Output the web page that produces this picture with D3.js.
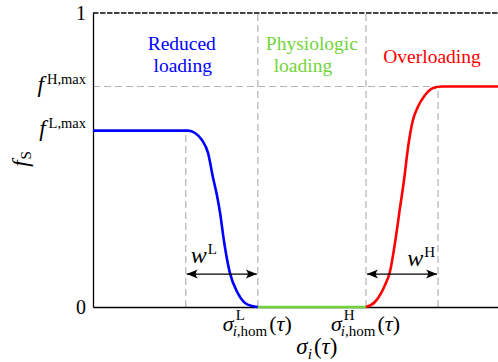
<!DOCTYPE html>
<html>
<head>
<meta charset="utf-8">
<script src="https://cdn.jsdelivr.net/npm/d3@7/dist/d3.min.js"></script>
<style>
  html, body { margin: 0; padding: 0; background: #fff; }
  svg { display: block; }
</style>
</head>
<body>
<svg id="chart" width="498" height="362"></svg>
<script>
// Stress-driven stimulus function f_S over the local stress sigma_i(tau)
const fLmax = 0.6;          // plateau under reduced loading
const fHmax = 0.75;         // plateau under overloading
const sigmaLhom = 40.7;     // lower homeostatic stress
const sigmaHhom = 67.4;     // upper homeostatic stress
const wL = 17.8;            // transition width, reduced loading
const wH = 17.8;            // transition width, overloading
const arrowLevel = 0.112;   // height of the width arrows

// Reduced-loading branch
const lowX = [0, 23.5, 25.2, 26.9, 28.4, 29.6, 30.6, 31.4, 32.3, 33.8, 35.6, 37.5, 39.3, 40.7];
const lowY = [0.6, 0.6, 0.592, 0.568, 0.524, 0.442, 0.380, 0.318, 0.228, 0.116, 0.051, 0.014, 0.003, 0];
// Physiologic branch
const physX = [40.7, 67.4];
const physY = [0, 0];
// Overloading branch
const highX = [67.4, 69.6, 72.1, 73.3, 74.6, 75.8, 76.8, 77.8, 79.0, 80.2, 82.0, 84.0, 86.2, 100];
const highY = [0, 0.017, 0.075, 0.119, 0.221, 0.337, 0.432, 0.544, 0.636, 0.680, 0.721, 0.745, 0.75, 0.75];

// Tick labels, as math runs: [text, italic]
const yTickValues = [0, fLmax, fHmax, 1];
const yTickLabels = [
  { base: [["0", false]] },
  { base: [["f", true]], sup: [["L,max", false]] },
  { base: [["f", true]], sup: [["H,max", false]] },
  { base: [["1", false]] }
];
const xTickValues = [sigmaLhom, sigmaHhom];
const xTickLabels = [
  { base: [["σ", true]], sup: [["L", false]], sub: [["i", true], [",hom", false]], tail: [["(", false], ["τ", true], [")", false]] },
  { base: [["σ", true]], sup: [["H", false]], sub: [["i", true], [",hom", false]], tail: [["(", false], ["τ", true], [")", false]] }
];
const xTitle = { base: [["σ", true]], sub: [["i", true]], tail: [["(", false], ["τ", true], [")", false]] };
const yTitle = { base: [["f", true]], sub: [["S", false]] };
const wLabelL = { base: [["w", true]], sup: [["L", false]] };
const wLabelH = { base: [["w", true]], sup: [["H", false]] };

const regionNames = [["Reduced", "loading"], ["Physiologic", "loading"], ["Overloading"]];
const regionColors = ["#0000ff", "#72d43a", "#ff0000"];

const FONT = '"Liberation Serif", "DejaVu Serif", serif';
const margin = { top: 13, right: 0, bottom: 55, left: 93 };
const W = 498, H = 362;

const svg = d3.select("#chart");
const x = d3.scaleLinear().domain([0, 100]).range([margin.left, W - margin.right]);
const y = d3.scaleLinear().domain([0, 1]).range([H - margin.bottom, margin.top]);

// Small math typesetter: base, stacked sup/sub, then a tail run
function typeset(parent, spec, o) {
  const size = o.size || 20, script = o.script || 14;
  const g = parent.append("g");
  const inner = g.append("g");
  function run(parts, px, py, fs) {
    const t = inner.append("text").attr("x", px).attr("y", py)
      .style("font-family", FONT).attr("font-size", fs)
      .attr("text-anchor", "start").attr("fill", "#000");
    parts.forEach(([s, it]) => t.append("tspan").attr("font-style", it ? "italic" : "normal").text(s));
    return t.node().getComputedTextLength();
  }
  let cx = run(spec.base, 0, 0, size);
  if (spec.sup || spec.sub) {
    const subX = cx + (o.subGap || 0);
    cx += (o.supGap || 1);
    let sw = 0;
    if (spec.sup) sw = Math.max(sw, run(spec.sup, cx, -(o.supShift || 8), script));
    if (spec.sub) sw = Math.max(sw, run(spec.sub, subX, (o.subShift || 5), script) + subX - cx);
    cx += sw;
  }
  if (spec.tail) cx += 2 + run(spec.tail, cx + 2, 0, size);
  const shift = o.anchor === "middle" ? -cx / 2 : o.anchor === "end" ? -cx : 0;
  inner.attr("transform", `translate(${shift},0)`);
  g.attr("transform", `translate(${o.x || 0},${o.y || 0})${o.rotate ? ` rotate(${o.rotate})` : ""}`);
  return g;
}

// Guide lines
const guides = svg.append("g").attr("stroke", "#b3b3b3").attr("stroke-width", 1.2)
  .attr("stroke-dasharray", "7,4").attr("fill", "none");
guides.append("line").attr("x1", x(0)).attr("x2", x(100)).attr("y1", y(fHmax)).attr("y2", y(fHmax));
[[sigmaLhom - wL, fLmax], [sigmaLhom, 1], [sigmaHhom, 1], [sigmaHhom + wH, fHmax]].forEach(([v, top]) => {
  guides.append("line").attr("x1", x(v)).attr("x2", x(v)).attr("y1", y(0)).attr("y2", y(top));
});

// Upper bound f_S = 1
svg.append("line").attr("x1", x(0)).attr("x2", x(100)).attr("y1", y(1)).attr("y2", y(1))
  .attr("stroke", "#444").attr("stroke-width", 1.8).attr("stroke-dasharray", "5.5,1.5");

// Axes
const yAxis = svg.append("g").attr("transform", `translate(${x(0)},0)`)
  .call(d3.axisLeft(y).tickValues(yTickValues).tickSize(0).tickSizeOuter(0).tickPadding(7));
const xAxis = svg.append("g").attr("transform", `translate(0,${y(0)})`)
  .call(d3.axisBottom(x).tickValues(xTickValues).tickSize(0).tickSizeOuter(0));
[yAxis, xAxis].forEach(a => {
  a.select(".domain").attr("stroke", "#000").attr("stroke-width", 1.3);
  a.selectAll(".tick text").remove();
});
yAxis.selectAll(".tick").each(function(d, i) {
  const isDigit = i === 0 || i === yTickLabels.length - 1;
  typeset(d3.select(this), yTickLabels[i], {
    anchor: "end", x: -7, y: isDigit ? 6.5 : 5, size: isDigit ? 20 : 23, script: 14.5, supShift: 8, supGap: 3
  });
});
xAxis.selectAll(".tick").each(function(d, i) {
  typeset(d3.select(this), xTickLabels[i], {
    anchor: "middle", x: -1, y: 24, size: 22, script: 15, supShift: 11, subShift: 5, supGap: 2, subGap: -1
  });
});

// Axis titles
typeset(svg, xTitle, { anchor: "middle", x: x((sigmaLhom + sigmaHhom) / 2) + 5, y: 354, size: 23, script: 15.5, subShift: 5, subGap: 0 });
typeset(svg, yTitle, { anchor: "middle", x: 28, y: 159, rotate: -90, size: 23, script: 15, subShift: 3, subGap: 1 });

// Curves
const line = d3.line().x(d => x(d[0])).y(d => y(d[1])).curve(d3.curveMonotoneX);
const branches = [
  [lowX, lowY, regionColors[0]],
  [physX, physY, regionColors[1]],
  [highX, highY, regionColors[2]]
];
svg.append("g").selectAll("path").data(branches).join("path")
  .attr("d", ([xs, ys]) => line(xs.map((v, i) => [v, ys[i]])))
  .attr("fill", "none").attr("stroke", d => d[2]).attr("stroke-width", 2.6)
  .attr("stroke-linecap", "butt");

// Width arrows
const defs = svg.append("defs");
defs.append("marker").attr("id", "head").attr("viewBox", "-12 -6 13 12")
  .attr("refX", 0).attr("refY", 0).attr("markerWidth", 13).attr("markerHeight", 12)
  .attr("markerUnits", "userSpaceOnUse").attr("orient", "auto-start-reverse")
  .append("path").attr("d", "M0,0 L-11,-4.5 Q-7,0 -11,4.5 Z").attr("fill", "#000");
[[sigmaLhom - wL, sigmaLhom], [sigmaHhom, sigmaHhom + wH]].forEach(([a, b]) => {
  svg.append("line").attr("x1", x(a) + 1).attr("x2", x(b) - 1).attr("y1", y(arrowLevel)).attr("y2", y(arrowLevel))
    .attr("stroke", "#000").attr("stroke-width", 1.3)
    .attr("marker-start", "url(#head)").attr("marker-end", "url(#head)");
});
typeset(svg, wLabelL, { anchor: "start", x: x(sigmaLhom - wL) + 5, y: y(arrowLevel) - 11, size: 24, script: 15, supShift: 9 });
typeset(svg, wLabelH, { anchor: "end", x: x(sigmaHhom + wH) - 3, y: y(arrowLevel) - 8, size: 24, script: 15, supShift: 9 });

// Region captions
const captionX = [x(sigmaLhom - wL) - 4, x((sigmaLhom + sigmaHhom) / 2), x((sigmaHhom + 100) / 2)];
regionNames.forEach((lines, i) => {
  const t = svg.append("text").style("font-family", FONT).attr("font-size", 19.5)
    .attr("fill", regionColors[i]).attr("text-anchor", "middle");
  if (lines.length === 2) {
    t.append("tspan").attr("x", captionX[i]).attr("y", 50).text(lines[0]);
    t.append("tspan").attr("x", captionX[i] - (i === 1 ? 9 : -1)).attr("y", 72).text(lines[1]);
  } else {
    t.append("tspan").attr("x", captionX[i]).attr("y", 63).text(lines[0]);
  }
});
</script>
</body>
</html>
